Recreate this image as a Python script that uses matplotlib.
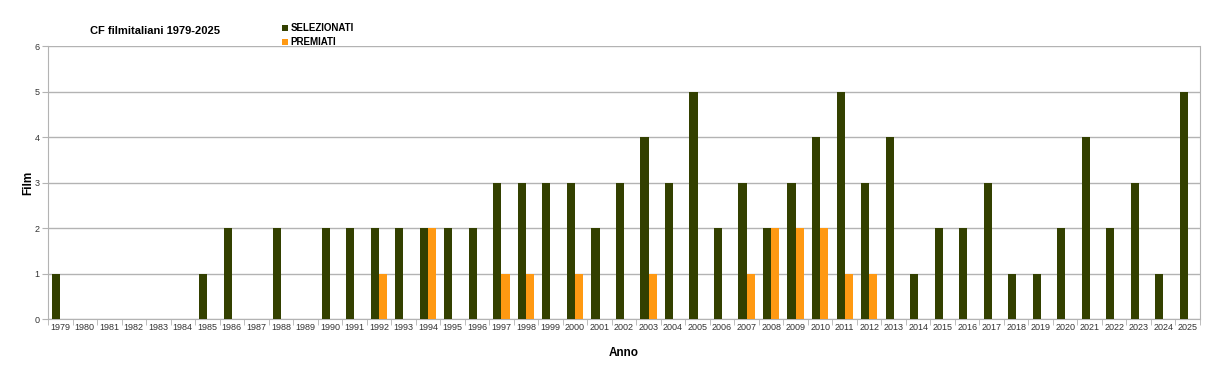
import matplotlib
matplotlib.use("Agg")
import matplotlib.pyplot as plt
import numpy as np

plt.rcParams['font.family'] = ['Liberation Sans', 'DejaVu Sans']

years = list(range(1979, 2026))
selezionati = [1, 0, 0, 0, 0, 0, 1, 2, 0, 2, 0, 2, 2, 2, 2, 2, 2, 2, 3, 3, 3, 3, 2, 3, 4, 3, 5, 2, 3, 2, 3, 4, 5, 3, 4, 1, 2, 2, 3, 1, 1, 2, 4, 2, 3, 1, 5]
premiati = [0, 0, 0, 0, 0, 0, 0, 0, 0, 0, 0, 0, 0, 1, 0, 2, 0, 0, 1, 1, 0, 1, 0, 0, 1, 0, 0, 0, 1, 2, 2, 2, 1, 1, 0, 0, 0, 0, 0, 0, 0, 0, 0, 0, 0, 0, 0]
labels = [str(y) for y in years]

c_sel = '#334000'
c_pre = '#ff9912'
gray = '#b3b3b3'

fig = plt.figure(figsize=(12.25, 3.79), dpi=100)
ax = fig.add_axes([0.0392, 0.1583, 0.9404, 0.7203])

x = np.arange(len(years))
w = 0.33
ax.bar(x - w/2, selezionati, w, color=c_sel, label='SELEZIONATI', zorder=3)
ax.bar(x + w/2, premiati, w, color=c_pre, label='PREMIATI', zorder=3)

ax.set_xlim(-0.5, len(years) - 0.5)
ax.set_ylim(0, 6)
ax.set_yticks(range(0, 7))
ax.yaxis.grid(True, color=gray, linewidth=1, zorder=0)
ax.set_xticks(x)
ax.set_xticklabels(labels, fontsize=6.5, color='#333333')
ax.tick_params(axis='x', length=0, pad=3)
ax.set_xticks(np.arange(-0.5, len(years), 1), minor=True)
ax.tick_params(axis='x', which='minor', length=4, color=gray, direction='out')
ax.tick_params(axis='y', labelsize=6.5, length=4, color=gray, labelcolor='#333333', pad=2)
for s in ['left', 'bottom', 'right']:
    ax.spines[s].set_color(gray)
ax.spines['top'].set_visible(False)

ax.set_xlabel('Anno', fontsize=8.5, fontweight='bold', labelpad=11)
ax.set_ylabel('Film', fontsize=8.5, fontweight='bold', labelpad=0)

fig.text(0.0735, 0.918, 'CF filmitaliani 1979-2025', fontsize=8, fontweight='bold', va='center')
leg = fig.legend(loc='upper left', bbox_to_anchor=(0.226, 0.952), fontsize=7, frameon=False,
                 handlelength=0.6, handleheight=0.6, handletextpad=0.3, labelspacing=0.45, borderpad=0)
for t in leg.get_texts():
    t.set_fontweight('bold')

fig.savefig('out.png', dpi=100)
